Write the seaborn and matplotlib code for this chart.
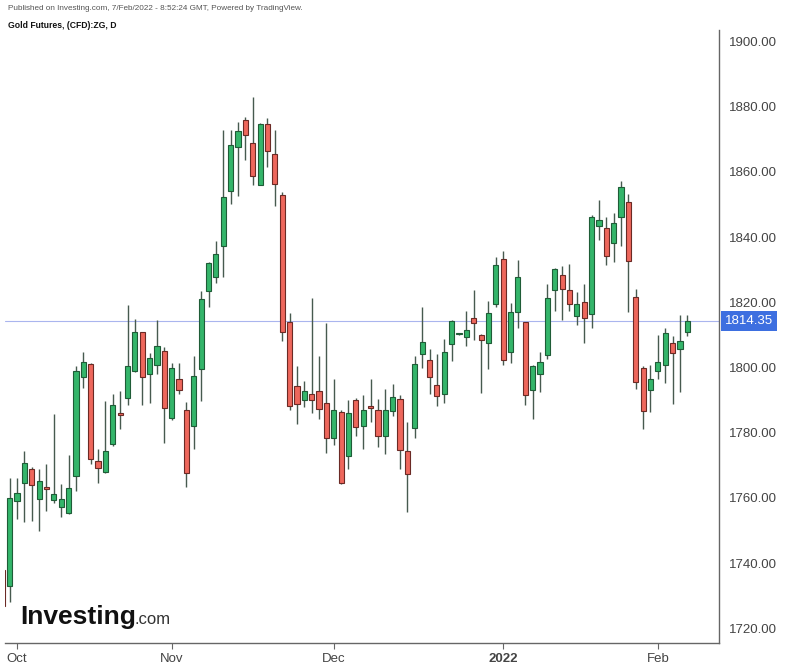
import numpy as np
import pandas as pd
import matplotlib
matplotlib.use("Agg")
import matplotlib.pyplot as plt
import seaborn as sns

# =========================
# DATA (Gold Futures CFD, daily)
# =========================
dates = pd.bdate_range("2021-09-29", "2022-02-07")

opens = [1738, 1733, 1759, 1764.5, 1769, 1759.6, 1763.2, 1759.5, 1757.2, 1755.3,
         1766.7, 1797.2, 1801, 1771.2, 1767.9, 1776.4, 1786.0, 1790.7, 1799.0, 1810.8,
         1797.9, 1800.9, 1805.1, 1784.4, 1796.5, 1787.1, 1782.2, 1799.4, 1823.4, 1827.9,
         1837.4, 1854.2, 1867.7, 1876.0, 1868.9, 1856.1, 1874.8, 1865.6, 1852.8, 1813.8,
         1794.3, 1789.9, 1791.8, 1792.8, 1789.1, 1778.4, 1786.4, 1772.8, 1790.1, 1782.1,
         1788.2, 1786.9, 1778.9, 1786.6, 1790.2, 1774.3, 1781.3, 1804.0, 1802.4, 1794.5,
         1792.0, 1807.3, 1810.2, 1809.2, 1815.2, 1809.9, 1807.6, 1819.4, 1833.2, 1804.7,
         1817.1, 1813.8, 1793.0, 1798.1, 1803.7, 1823.7, 1828.5, 1823.9, 1815.8, 1820.2,
         1816.5, 1843.3, 1842.9, 1838.3, 1846.3, 1850.8, 1821.6, 1799.8, 1793.0, 1798.9,
         1800.9, 1807.6, 1805.8, 1810.9]
highs = [1740, 1766, 1766, 1774.4, 1769.5, 1769, 1770.3, 1785.7, 1764.2, 1773.3,
         1800.4, 1804.8, 1801.5, 1775.1, 1789.7, 1792.0, 1792.8, 1819.1, 1815.0, 1811.0,
         1804.4, 1814.5, 1806.3, 1801.4, 1801.4, 1789.4, 1803.6, 1823.5, 1832.5, 1838.9,
         1872.7, 1872.7, 1875.3, 1876.8, 1882.9, 1875.0, 1876.5, 1872.7, 1853.8, 1816.8,
         1800.5, 1795.8, 1821.3, 1803.4, 1813.5, 1796.6, 1787.1, 1789.9, 1790.5, 1791.7,
         1796.6, 1790.4, 1793.5, 1794.8, 1791.7, 1783.3, 1803.4, 1818.4, 1805.8, 1804.0,
         1808.6, 1814.7, 1810.5, 1817.2, 1823.9, 1810.4, 1820.4, 1833.9, 1835.7, 1819.8,
         1832.9, 1814.0, 1800.9, 1804.8, 1825.7, 1830.5, 1831.1, 1831.8, 1823.1, 1825.5,
         1846.7, 1851.3, 1846.0, 1847.5, 1857.2, 1853.1, 1824.2, 1800.5, 1800.9, 1810.1,
         1812.2, 1809.7, 1816.0, 1816.0]
lows = [1726, 1728, 1753.5, 1752.5, 1753, 1750, 1756, 1758.3, 1754, 1755,
        1762.1, 1793.7, 1770.5, 1764.6, 1767.7, 1775.9, 1781.0, 1788.4, 1798.6, 1788.4,
        1789.2, 1797.9, 1776.8, 1784.0, 1792.0, 1763.4, 1774.9, 1789.6, 1818.4, 1825.9,
        1827.6, 1850.0, 1852.7, 1863.5, 1856.1, 1856.0, 1861.5, 1849.6, 1808.0, 1786.9,
        1782.8, 1787.9, 1785.9, 1784.1, 1773.9, 1776.2, 1764.4, 1769.0, 1778.9, 1774.9,
        1783.3, 1775.6, 1773.4, 1785.0, 1769.0, 1755.7, 1778.5, 1799.8, 1791.8, 1788.1,
        1789.1, 1802.0, 1810.1, 1806.5, 1808.3, 1792.2, 1799.4, 1818.5, 1800.9, 1801.4,
        1812.1, 1788.4, 1784.3, 1792.5, 1802.7, 1817.2, 1814.7, 1817.3, 1812.9, 1807.6,
        1812.2, 1839.2, 1831.3, 1832.3, 1837.2, 1817.0, 1793.3, 1781.0, 1786.2, 1796.6,
        1795.3, 1788.9, 1792.5, 1809.7]
closes = [1727, 1760, 1761.5, 1770.8, 1764, 1765.3, 1762.7, 1761.2, 1759.7, 1763.1,
          1798.8, 1801.7, 1771.9, 1769.3, 1774.3, 1788.6, 1785.5, 1800.4, 1810.8, 1797.1,
          1802.9, 1806.6, 1787.7, 1799.8, 1793.0, 1767.5, 1797.3, 1820.9, 1832.0, 1834.8,
          1852.4, 1868.1, 1872.6, 1871.2, 1858.7, 1874.8, 1866.3, 1856.4, 1810.9, 1788.1,
          1788.9, 1792.7, 1789.9, 1787.4, 1778.4, 1786.9, 1764.7, 1786.0, 1781.7, 1787.1,
          1787.6, 1778.9, 1787.1, 1791.0, 1774.8, 1767.2, 1801.0, 1807.7, 1797.1, 1791.2,
          1804.8, 1814.2, 1810.4, 1811.4, 1813.6, 1808.3, 1816.7, 1831.3, 1802.4, 1817.0,
          1827.9, 1791.6, 1800.3, 1801.7, 1821.2, 1830.3, 1824.2, 1819.4, 1819.4, 1815.1,
          1846.0, 1845.1, 1834.3, 1844.4, 1855.3, 1832.6, 1795.4, 1786.7, 1796.4, 1801.7,
          1810.7, 1804.3, 1808.1, 1814.35]

last_price = 1814.35
y_ticks = [1720, 1740, 1760, 1780, 1800, 1820, 1840, 1860, 1880, 1900]
month_labels = ["Oct", "Nov", "Dec", "2022", "Feb"]

# =========================
# STYLE
# =========================
sns.set_style("white")
plt.rcParams["font.family"] = ["Liberation Sans", "DejaVu Sans"]

UP_FILL, UP_EDGE = "#34b56a", "#1f5c37"
DN_FILL, DN_EDGE = "#ee675c", "#6b2a25"
WICK = "#475a4f"

df = pd.DataFrame({"date": dates, "open": opens, "high": highs,
                   "low": lows, "close": closes})
df["x"] = np.arange(len(df))
df["up"] = df["close"] >= df["open"]
df["bottom"] = df[["open", "close"]].min(axis=1)
df["height"] = (df["close"] - df["open"]).abs().clip(lower=0.35)

# =========================
# PLOT
# =========================
fig = plt.figure(figsize=(7.89, 6.70), dpi=100)
ax = fig.add_axes([4.5 / 789, 27 / 670, (719 - 4.5) / 789, (643 - 30) / 670])

ax.vlines(df["x"], df["low"], df["high"], color=WICK, linewidth=1.0, zorder=2)
for up, fill, edge in [(True, UP_FILL, UP_EDGE), (False, DN_FILL, DN_EDGE)]:
    sub = df[df["up"] == up]
    ax.bar(sub["x"], sub["height"], bottom=sub["bottom"], width=0.7,
           color=fill, edgecolor=edge, linewidth=0.8, zorder=3)

ax.axhline(last_price, color="#aab5ee", linewidth=0.8, zorder=1)

ax.set_xlim(0.3, 97.3)
ax.set_ylim(1715.5, 1903.5)

# month ticks at first trading day of each month
first_idx = df.groupby(df["date"].dt.to_period("M"))["x"].min().values[1:]
ax.set_xticks(first_idx)
ax.set_xticklabels(month_labels, family=["Liberation Sans Narrow", "Liberation Sans", "DejaVu Sans"],
                   fontsize=9.5, color="#444444")
for lab in ax.get_xticklabels():
    if lab.get_text() == "2022":
        lab.set_fontweight("bold")

ax.yaxis.tick_right()
ax.set_yticks(y_ticks)
ax.set_yticklabels([f"{v:.2f}" for v in y_ticks], fontsize=9.5, color="#444444")
ax.tick_params(axis="both", which="both", length=4, width=0.8, color="#666666",
               direction="out", pad=3)
ax.tick_params(axis="y", right=True, left=False)
ax.tick_params(axis="x", bottom=True)

sns.despine(ax=ax, left=True, top=True, right=False, bottom=False)
for side in ["right", "bottom"]:
    ax.spines[side].set_color("#666666")
    ax.spines[side].set_linewidth(1.0)
ax.grid(False)

# last price label
ax.annotate(f"{last_price:.2f}", xy=(1.0, last_price), xycoords=("axes fraction", "data"),
            xytext=(4, 0), textcoords="offset points", va="center", ha="left",
            fontsize=9.5, color="white",
            bbox=dict(boxstyle="square,pad=0.3", facecolor="#3d6fe0", edgecolor="none"))

# header
fig.text(8 / 789, 1 - 9 / 670,
         "Published on Investing.com, 7/Feb/2022 - 8:52:24 GMT, Powered by TradingView.",
         fontsize=5.9, color="#555555", va="center", ha="left")
fig.text(8 / 789, 1 - 25 / 670, "Gold Futures, (CFD):ZG, D",
         fontsize=6.2, color="#111111", fontweight="bold", va="center", ha="left")

# watermark logo
fig.text(20 / 789, 1 - 624 / 670, "Investing", fontsize=19, fontweight="bold",
         color="#111111", va="baseline", ha="left")
fig.text(134 / 789, 1 - 624 / 670, ".com", fontsize=12, color="#333333",
         va="baseline", ha="left")

fig.savefig("out.png", dpi=100)
